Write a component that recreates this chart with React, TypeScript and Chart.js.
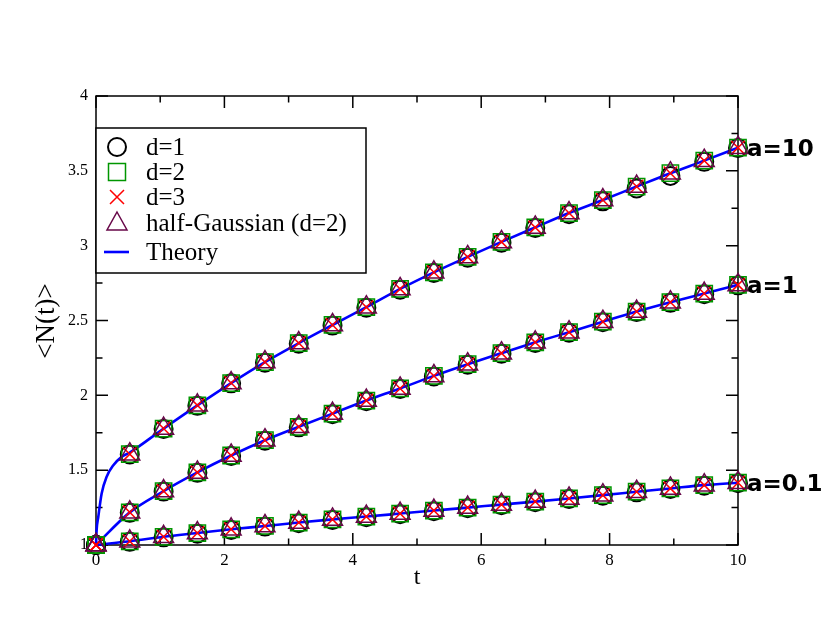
import React, { useEffect, useRef } from "react";
import { Chart, registerables } from "chart.js";

Chart.register(...registerables);

const SERIF = '"Liberation Serif", "Times New Roman", serif';

// sample times of the simulation points
const tValues = [
  0, 0.526, 1.053, 1.579, 2.105, 2.632, 3.158, 3.684, 4.211, 4.737, 5.263, 5.789,
  6.316, 6.842, 7.368, 7.895, 8.421, 8.947, 9.474, 10,
];

// a = 10
const a10Points = [
  1.0, 1.607, 1.778, 1.933, 2.082, 2.222, 2.349, 2.47, 2.589, 2.711, 2.822, 2.925,
  3.025, 3.122, 3.218, 3.305, 3.395, 3.484, 3.568, 3.655,
];
const a10Circles = [
  1.0, 1.605, 1.775, 1.93, 2.08, 2.218, 2.345, 2.466, 2.585, 2.706, 2.818, 2.92,
  3.02, 3.118, 3.21, 3.296, 3.382, 3.466, 3.56, 3.652,
];
const a10TheoryT = [
  0, 0.01, 0.036, 0.088, 0.166, 0.27, 0.4, 0.526, 1.053, 1.579, 2.105, 2.632, 3.158,
  3.684, 4.211, 4.737, 5.263, 5.789, 6.316, 6.842, 7.368, 7.895, 8.421, 8.947, 9.474, 10,
];
const a10Theory = [
  1.0, 1.1, 1.189, 1.344, 1.456, 1.533, 1.589, 1.618, 1.778, 1.933, 2.082, 2.222, 2.349,
  2.47, 2.589, 2.711, 2.822, 2.925, 3.025, 3.122, 3.218, 3.305, 3.395, 3.484, 3.568, 3.655,
];

// a = 1
const a1Points = [
  1.0, 1.218, 1.36, 1.485, 1.598, 1.7, 1.79, 1.878, 1.965, 2.046, 2.13, 2.208, 2.282,
  2.354, 2.422, 2.492, 2.56, 2.622, 2.68, 2.738,
];
const a1Circles = [
  1.0, 1.215, 1.357, 1.482, 1.595, 1.697, 1.786, 1.874, 1.961, 2.042, 2.126, 2.204,
  2.278, 2.35, 2.418, 2.488, 2.556, 2.618, 2.676, 2.735,
];

// a = 0.1
const a01Points = [
  1.0, 1.025, 1.055, 1.08, 1.105, 1.127, 1.15, 1.171, 1.19, 1.21, 1.23, 1.25, 1.27,
  1.29, 1.311, 1.333, 1.356, 1.378, 1.4, 1.416,
];
const a01Circles = [
  1.0, 1.021, 1.051, 1.076, 1.101, 1.123, 1.146, 1.167, 1.186, 1.206, 1.226, 1.246,
  1.266, 1.286, 1.307, 1.329, 1.352, 1.374, 1.396, 1.413,
];

const xMajorTicks = [0, 2, 4, 6, 8, 10];
const xMinorTicks = [1, 3, 5, 7, 9];
const yMajorTicks = [1, 1.5, 2, 2.5, 3, 3.5, 4];
const yMinorTicks = [1.25, 1.75, 2.25, 2.75, 3.25, 3.75];

const legendLabels = ["d=1", "d=2", "d=3", "half-Gaussian (d=2)", "Theory"];
const curveLabels = ["a=10", "a=1", "a=0.1"];

const BLACK = "#000000";
const GREEN = "rgb(0,150,0)";
const RED = "rgb(255,0,0)";
const MAROON = "rgb(103,7,72)";
const BLUE = "rgb(0,0,255)";

const pts = (xs: number[], ys: number[]) => xs.map((x, i) => ({ x, y: ys[i] }));

const markerSets = (points: number[], circles: number[]) => [
  {
    data: pts(tValues, circles),
    pointStyle: "circle",
    pointRadius: 9,
    pointBorderWidth: 2,
    borderColor: BLACK,
    order: 4,
  },
  {
    data: pts(tValues, points),
    pointStyle: "rect",
    pointRadius: 11.5,
    pointBorderWidth: 1.5,
    borderColor: GREEN,
    order: 3,
  },
  {
    data: pts(tValues, points),
    pointStyle: "crossRot",
    pointRadius: 9.5,
    pointBorderWidth: 1.5,
    borderColor: RED,
    order: 2,
  },
  {
    data: pts(tValues, points),
    pointStyle: "triangle",
    pointRadius: 11.5,
    pointBorderWidth: 1.5,
    borderColor: MAROON,
    order: 1,
  },
].map((d) => ({
  ...d,
  showLine: false,
  backgroundColor: "transparent",
  clip: false as const,
}));

const theorySet = (xs: number[], ys: number[]) => ({
  data: pts(xs, ys),
  showLine: true,
  pointRadius: 0,
  borderColor: BLUE,
  borderWidth: 2.6,
  cubicInterpolationMode: "monotone" as const,
  order: 5,
  clip: false as const,
});

const framePlugin = {
  id: "frame",
  beforeDatasetsDraw(chart: any) {
    const { ctx, chartArea: a, scales } = chart;
    const xs = scales.x;
    const ys = scales.y;
    ctx.save();
    ctx.strokeStyle = BLACK;
    ctx.lineWidth = 1.5;
    ctx.strokeRect(a.left, a.top, a.right - a.left, a.bottom - a.top);
    ctx.beginPath();
    const xTicks = (vals: number[], len: number) =>
      vals.forEach((v) => {
        const px = xs.getPixelForValue(v);
        ctx.moveTo(px, a.bottom);
        ctx.lineTo(px, a.bottom - len);
        ctx.moveTo(px, a.top);
        ctx.lineTo(px, a.top + len);
      });
    const yTicks = (vals: number[], len: number) =>
      vals.forEach((v) => {
        const py = ys.getPixelForValue(v);
        ctx.moveTo(a.left, py);
        ctx.lineTo(a.left + len, py);
        ctx.moveTo(a.right, py);
        ctx.lineTo(a.right - len, py);
      });
    xTicks(xMajorTicks, 12);
    xTicks(xMinorTicks, 6.5);
    yTicks(yMajorTicks, 12);
    yTicks(yMinorTicks, 6.5);
    ctx.stroke();
    ctx.restore();
  },
  afterDraw(chart: any) {
    const { ctx, chartArea: a, scales } = chart;
    const ys = scales.y;
    ctx.save();

    // axis titles
    ctx.fillStyle = BLACK;
    ctx.textAlign = "center";
    ctx.textBaseline = "middle";
    ctx.font = `24px ${SERIF}`;
    ctx.fillText("t", (a.left + a.right) / 2, 578);
    ctx.save();
    ctx.translate(47, 321);
    ctx.rotate(-Math.PI / 2);
    ctx.font = `27px ${SERIF}`;
    ctx.fillText("<N(t)>", 0, 0);
    ctx.restore();

    // curve labels at the right edge
    ctx.textAlign = "left";
    ctx.font = `bold 23px "DejaVu Sans", sans-serif`;
    const ends = [a10Points, a1Points, a01Points];
    curveLabels.forEach((lab, i) => {
      const last = ends[i][ends[i].length - 1];
      ctx.fillText(lab, a.right + 9, ys.getPixelForValue(last) + 2);
    });

    // legend box
    const bx = a.left;
    const by = 128;
    const bw = 270;
    const bh = 145;
    ctx.fillStyle = "#ffffff";
    ctx.fillRect(bx, by, bw, bh);
    ctx.strokeStyle = BLACK;
    ctx.lineWidth = 1.5;
    ctx.strokeRect(bx, by, bw, bh);

    const rows = [147, 172, 197, 223, 252];
    const sx = bx + 21;
    // circle
    ctx.strokeStyle = BLACK;
    ctx.lineWidth = 2;
    ctx.beginPath();
    ctx.arc(sx, rows[0], 9, 0, Math.PI * 2);
    ctx.stroke();
    ctx.lineWidth = 1.5;
    // square
    ctx.strokeStyle = GREEN;
    ctx.strokeRect(sx - 8.5, rows[1] - 8.5, 17, 17);
    // cross
    ctx.strokeStyle = RED;
    ctx.beginPath();
    ctx.moveTo(sx - 7, rows[2] - 7);
    ctx.lineTo(sx + 7, rows[2] + 7);
    ctx.moveTo(sx + 7, rows[2] - 7);
    ctx.lineTo(sx - 7, rows[2] + 7);
    ctx.stroke();
    // triangle
    ctx.strokeStyle = MAROON;
    ctx.beginPath();
    ctx.moveTo(sx, rows[3] - 11);
    ctx.lineTo(sx + 10, rows[3] + 7);
    ctx.lineTo(sx - 10, rows[3] + 7);
    ctx.closePath();
    ctx.stroke();
    // line
    ctx.strokeStyle = BLUE;
    ctx.lineWidth = 2.6;
    ctx.beginPath();
    ctx.moveTo(sx - 13, rows[4]);
    ctx.lineTo(sx + 12, rows[4]);
    ctx.stroke();

    ctx.fillStyle = BLACK;
    ctx.font = `25px ${SERIF}`;
    ctx.textBaseline = "middle";
    legendLabels.forEach((lab, i) => ctx.fillText(lab, bx + 50, rows[i] + 1));
    ctx.restore();
  },
};

const NChart = () => {
  const canvasRef = useRef<HTMLCanvasElement>(null);
  const chartRef = useRef<Chart | null>(null);

  useEffect(() => {
    document.body.style.margin = "0";
    if (!canvasRef.current) return;
    if (chartRef.current) chartRef.current.destroy();

    chartRef.current = new Chart(canvasRef.current, {
      type: "scatter",
      data: {
        datasets: [
          theorySet(a10TheoryT, a10Theory),
          theorySet(tValues, a1Points),
          theorySet(tValues, a01Points),
          ...markerSets(a10Points, a10Circles),
          ...markerSets(a1Points, a1Circles),
          ...markerSets(a01Points, a01Circles),
        ] as any,
      },
      options: {
        animation: false,
        responsive: true,
        maintainAspectRatio: false,
        events: [],
        layout: { padding: { top: 96, right: 92, left: 0, bottom: 0 } },
        plugins: {
          legend: { display: false },
          tooltip: { enabled: false },
        },
        scales: {
          x: {
            type: "linear",
            min: 0,
            max: 10,
            afterFit: (s: any) => {
              s.height = 97;
            },
            grid: { display: false, drawTicks: false },
            border: { display: false },
            ticks: {
              stepSize: 2,
              autoSkip: false,
              maxRotation: 0,
              padding: 5,
              color: BLACK,
              font: { family: SERIF, size: 17 },
              callback: (v: any) => String(v),
            },
          },
          y: {
            type: "linear",
            min: 1,
            max: 4,
            afterFit: (s: any) => {
              s.width = 96;
            },
            grid: { display: false, drawTicks: false },
            border: { display: false },
            ticks: {
              stepSize: 0.5,
              autoSkip: false,
              padding: 8,
              color: BLACK,
              font: { family: SERIF, size: 16 },
              callback: (v: any) => String(v),
            },
          },
        },
      },
      plugins: [framePlugin],
    });

    return () => {
      if (chartRef.current) {
        chartRef.current.destroy();
        chartRef.current = null;
      }
    };
  }, []);

  return (
    <div style={{ width: 830, height: 642, position: "relative", background: "#fff" }}>
      <canvas ref={canvasRef}></canvas>
    </div>
  );
};

export default function App() {
  return <NChart />;
}
